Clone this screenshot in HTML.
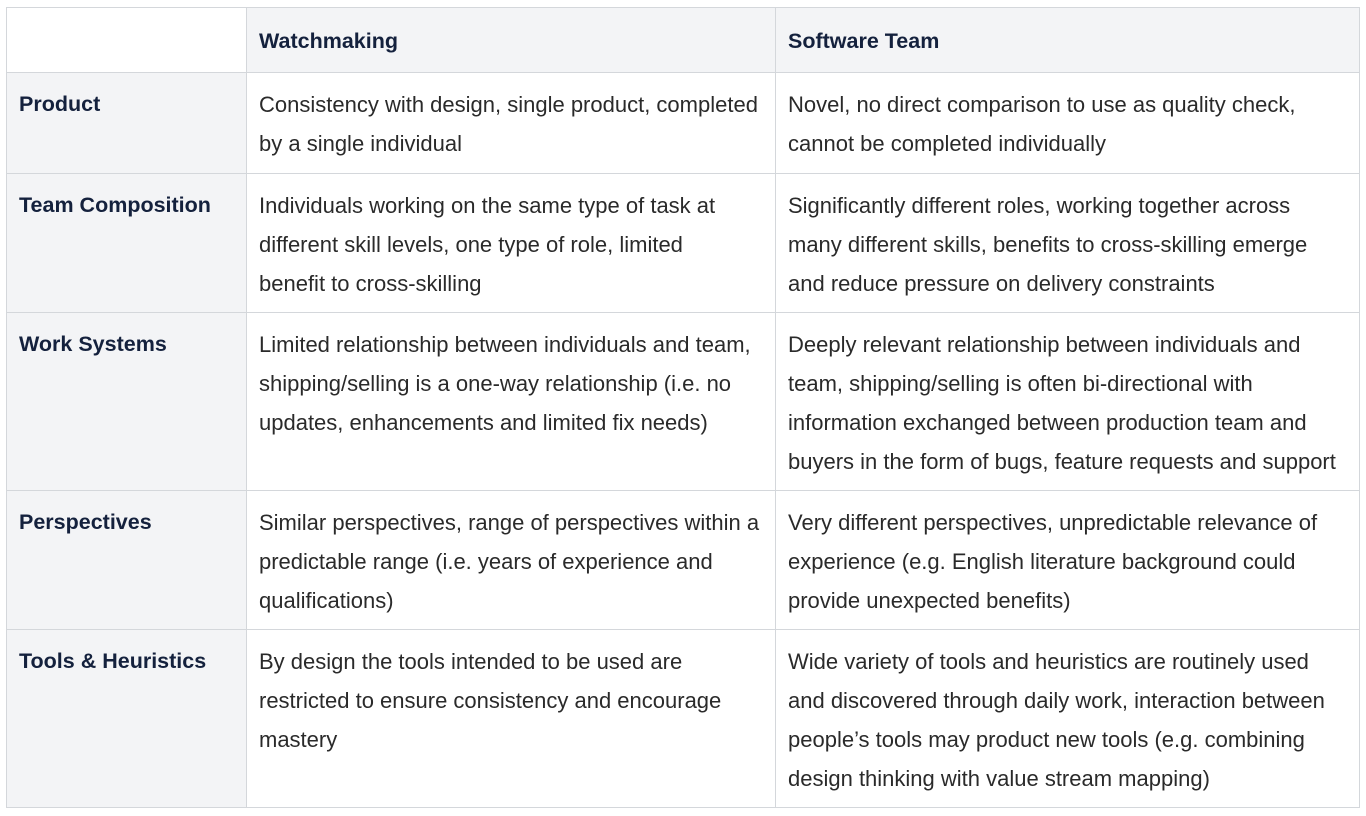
<!DOCTYPE html>
<html><head><style>
body{margin:0;background:#fff;width:1366px;height:816px;overflow:hidden;font-family:"Liberation Sans",sans-serif;}
.c{position:absolute;box-sizing:border-box;border:1px solid #d4d7db;padding:12px 12px;font-size:22px;line-height:39px;color:#2a2a2a;white-space:nowrap;}
.h{background:#f3f4f6;font-weight:bold;color:#14213d;font-size:21.5px;}
.f{background:#f3f4f6;font-weight:bold;color:#14213d;font-size:21.5px;}
</style></head><body>
<div class="c" style="left:6px;top:7px;width:241px;height:66px;"></div>
<div class="c h" style="left:246px;top:7px;width:530px;height:66px;padding-top:14px">Watchmaking</div>
<div class="c h" style="left:775px;top:7px;width:585px;height:66px;padding-top:14px">Software Team</div>

<div class="c f" style="left:6px;top:72px;width:241px;height:102px;">Product</div>
<div class="c" style="left:246px;top:72px;width:530px;height:102px;">Consistency with design, single product, completed<br>by a single individual</div>
<div class="c" style="left:775px;top:72px;width:585px;height:102px;">Novel, no direct comparison to use as quality check,<br>cannot be completed individually</div>

<div class="c f" style="left:6px;top:173px;width:241px;height:140px;">Team Composition</div>
<div class="c" style="left:246px;top:173px;width:530px;height:140px;">Individuals working on the same type of task at<br>different skill levels, one type of role, limited<br>benefit to cross-skilling</div>
<div class="c" style="left:775px;top:173px;width:585px;height:140px;">Significantly different roles, working together across<br>many different skills, benefits to cross-skilling emerge<br>and reduce pressure on delivery constraints</div>

<div class="c f" style="left:6px;top:312px;width:241px;height:179px;">Work Systems</div>
<div class="c" style="left:246px;top:312px;width:530px;height:179px;">Limited relationship between individuals and team,<br>shipping/selling is a one-way relationship (i.e. no<br>updates, enhancements and limited fix needs)</div>
<div class="c" style="left:775px;top:312px;width:585px;height:179px;">Deeply relevant relationship between individuals and<br>team, shipping/selling is often bi-directional with<br>information exchanged between production team and<br>buyers in the form of bugs, feature requests and support</div>

<div class="c f" style="left:6px;top:490px;width:241px;height:140px;">Perspectives</div>
<div class="c" style="left:246px;top:490px;width:530px;height:140px;">Similar perspectives, range of perspectives within a<br>predictable range (i.e. years of experience and<br>qualifications)</div>
<div class="c" style="left:775px;top:490px;width:585px;height:140px;">Very different perspectives, unpredictable relevance of<br>experience (e.g. English literature background could<br>provide unexpected benefits)</div>

<div class="c f" style="left:6px;top:629px;width:241px;height:179px;">Tools &amp; Heuristics</div>
<div class="c" style="left:246px;top:629px;width:530px;height:179px;">By design the tools intended to be used are<br>restricted to ensure consistency and encourage<br>mastery</div>
<div class="c" style="left:775px;top:629px;width:585px;height:179px;">Wide variety of tools and heuristics are routinely used<br>and discovered through daily work, interaction between<br>people’s tools may product new tools (e.g. combining<br>design thinking with value stream mapping)</div>
</body></html>
